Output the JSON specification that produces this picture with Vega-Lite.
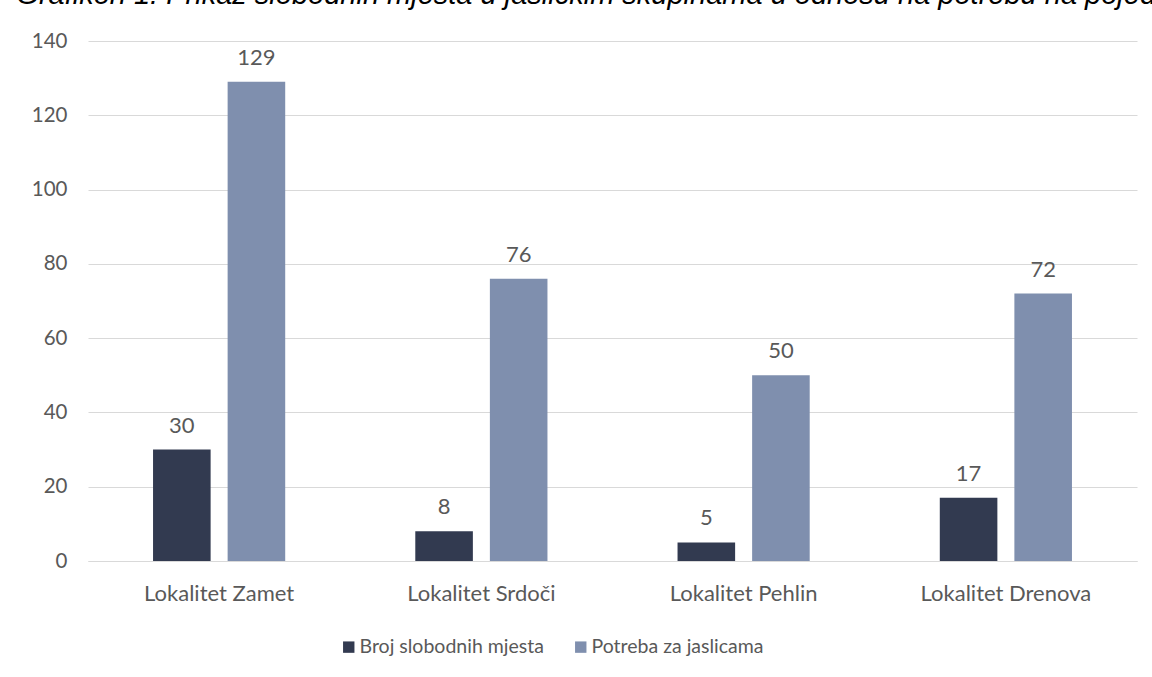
{
  "$schema": "https://vega.github.io/schema/vega-lite/v6.json",
  "width": 1049,
  "height": 520,
  "autosize": {"type": "none"},
  "padding": {"left": 88, "top": 41, "right": 15, "bottom": 116},
  "background": "white",
  "title": {
    "text": "Grafikon 1: Prikaz slobodnih mjesta u jasličkim skupinama u odnosu na potrebu na pojedinim lokalitetima",
    "anchor": "start",
    "font": "Liberation Sans",
    "fontStyle": "italic",
    "fontWeight": "normal",
    "fontSize": 29,
    "color": "#000000",
    "baseline": "alphabetic",
    "dx": -15,
    "offset": 0,
    "dy": 2
  },
  "data": {
    "values": [
      {"lokalitet": "Lokalitet Zamet", "serija": "Broj slobodnih mjesta", "vrijednost": 30},
      {"lokalitet": "Lokalitet Zamet", "serija": "Potreba za jaslicama", "vrijednost": 129},
      {"lokalitet": "Lokalitet Srdoči", "serija": "Broj slobodnih mjesta", "vrijednost": 8},
      {"lokalitet": "Lokalitet Srdoči", "serija": "Potreba za jaslicama", "vrijednost": 76},
      {"lokalitet": "Lokalitet Pehlin", "serija": "Broj slobodnih mjesta", "vrijednost": 5},
      {"lokalitet": "Lokalitet Pehlin", "serija": "Potreba za jaslicama", "vrijednost": 50},
      {"lokalitet": "Lokalitet Drenova", "serija": "Broj slobodnih mjesta", "vrijednost": 17},
      {"lokalitet": "Lokalitet Drenova", "serija": "Potreba za jaslicama", "vrijednost": 72}
    ]
  },
  "encoding": {
    "x": {
      "field": "lokalitet",
      "type": "nominal",
      "sort": null,
      "scale": {"paddingInner": 0, "paddingOuter": 0},
      "axis": {
        "title": null,
        "labelAngle": 0,
        "ticks": false,
        "domain": true,
        "domainColor": "#D9D9D9",
        "domainWidth": 1,
        "labelFont": "Lato",
        "labelFontSize": 22,
        "labelColor": "#595959",
        "labelPadding": 22,
        "labelLimit": 0,
        "grid": false
      }
    },
    "xOffset": {
      "field": "serija",
      "type": "nominal",
      "scale": {"paddingInner": 0.228, "paddingOuter": 0.872}
    },
    "y": {
      "field": "vrijednost",
      "type": "quantitative",
      "scale": {"domain": [0, 140], "nice": false},
      "axis": {
        "title": null,
        "values": [0, 20, 40, 60, 80, 100, 120, 140],
        "domain": false,
        "ticks": false,
        "grid": true,
        "gridColor": "#D9D9D9",
        "gridWidth": 1,
        "labelFont": "Lato",
        "labelFontSize": 20.5,
        "labelColor": "#595959",
        "labelPadding": 21
      }
    }
  },
  "layer": [
    {
      "mark": {"type": "bar"},
      "encoding": {
        "color": {
          "field": "serija",
          "type": "nominal",
          "scale": {"domain": ["Broj slobodnih mjesta", "Potreba za jaslicama"], "range": ["#323A50", "#7F8FAE"]},
          "legend": {
            "title": null,
            "orient": "none",
            "direction": "horizontal",
            "legendX": 251,
            "legendY": 596,
            "symbolType": "square",
            "symbolSize": 130,
            "symbolStrokeWidth": 0,
            "labelFont": "Lato",
            "labelFontSize": 19.5,
            "labelColor": "#595959",
            "labelOffset": 1,
            "labelLimit": 0,
            "columnPadding": 27,
            "padding": 0
          }
        }
      }
    },
    {
      "mark": {"type": "text", "baseline": "alphabetic", "dy": -17, "font": "Lato", "fontSize": 22, "color": "#595959"},
      "encoding": {
        "text": {"field": "vrijednost", "type": "quantitative"}
      }
    }
  ],
  "config": {
    "view": {"stroke": null}
  }
}
